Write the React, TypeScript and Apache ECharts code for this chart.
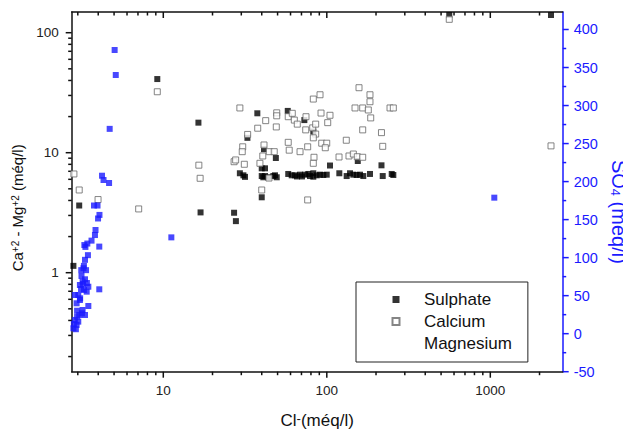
import React, { useEffect, useRef } from "react";
import * as echarts from "echarts";

const FONT = "'Liberation Sans', Arial, sans-serif";

// Axis extents (Cl-, Ca-Mg log axes; SO4 linear)
const X_MIN = 2.753;
const X_MAX = 2772;
const Y_MIN = 0.1496;
const Y_MAX = 148.8;
const SO4_MIN = -50;
const SO4_MAX = 423;

// tick values
const xMajorTicks = [10, 100, 1000];
const xMinorTicks = [3, 4, 5, 6, 7, 8, 9, 20, 30, 40, 50, 60, 70, 80, 90, 200, 300, 400, 500, 600, 700, 800, 900, 2000];
const yMajorTicks = [1, 10, 100];
const yMinorTicks = [0.2, 0.3, 0.4, 0.5, 0.6, 0.7, 0.8, 0.9, 2, 3, 4, 5, 6, 7, 8, 9, 20, 30, 40, 50, 60, 70, 80, 90];
const so4MajorTicks = [-50, 0, 50, 100, 150, 200, 250, 300, 350, 400];
const so4MinorTicks = [-25, 25, 75, 125, 175, 225, 275, 325, 375];

const legendNames = ["Sulphate", "Calcium", "Magnesium"];

// [Cl- (méq/l), Ca+2 - Mg+2 (méq/l)]
const sulphate: [number, number][] = [
  [9.19, 41.1], [16.4, 17.8], [3.06, 3.63], [2.82, 1.14], [16.9, 3.18], [27.1, 3.16], [27.8, 2.69],
  [37.6, 21.3], [32.7, 13.3], [57.7, 22.3], [72.9, 18.7], [82.7, 15.0], [41.3, 10.7], [48.8, 9.03],
  [104.6, 7.82], [154.7, 8.53], [216, 7.85], [40.0, 4.25], [561, 140.4], [2351, 140.4],
  [29.4, 6.74], [30.9, 6.48], [31.6, 6.29], [40.0, 6.39], [41.9, 6.39], [40.0, 7.41], [41.9, 7.41],
  [40.9, 6.24], [43.9, 6.24], [47.1, 6.39], [49.4, 6.24], [48.2, 6.48], [58.1, 6.65], [61.0, 6.48],
  [63.9, 6.48], [65.7, 6.34], [68.6, 6.56], [70.5, 6.34], [73.6, 6.56], [77.1, 6.65], [78.9, 6.39],
  [82.7, 6.74], [82.7, 6.31], [86.8, 6.48], [90.9, 6.56], [95.2, 6.52], [99.9, 6.56], [119.3, 6.74],
  [132.3, 6.39], [138.7, 6.74], [145.3, 6.56], [152.4, 6.52], [159.6, 6.56], [167.2, 6.39],
  [183.7, 6.65], [219.8, 6.39], [249.5, 6.65], [255.2, 6.52],
];

const calcium: [number, number][] = [
  [2.84, 6.65], [3.06, 4.89], [3.99, 4.07], [7.07, 3.40], [9.19, 32.2], [16.5, 7.87], [16.8, 6.12],
  [29.4, 23.6], [27.1, 8.41], [27.7, 8.70], [31.3, 8.01], [30.6, 11.2], [30.4, 10.2], [32.8, 14.2],
  [37.8, 16.0], [42.3, 18.5], [49.4, 21.5], [49.4, 20.3], [49.1, 16.4], [41.3, 11.6], [40.6, 9.39],
  [39.0, 8.16], [44.5, 10.2], [47.7, 10.2], [44.3, 6.15], [40.0, 4.89], [58.1, 19.95], [61.5, 21.3],
  [63.3, 18.7], [66.0, 17.3], [74.6, 19.95], [74.3, 15.5], [82.0, 16.1], [85.5, 17.3], [85.5, 14.3],
  [82.7, 13.3], [82.7, 28.0], [90.9, 30.4], [92.2, 21.4], [104.6, 20.5], [101.3, 17.8], [58.1, 12.2],
  [58.9, 10.5], [68.6, 10.2], [76.4, 11.2], [93.1, 12.0], [99.9, 12.0], [97.9, 11.0], [83.5, 9.16],
  [82.7, 8.16], [76.4, 4.04], [131.6, 12.7], [118.8, 9.21], [136.7, 9.39], [145.3, 9.75], [153.6, 9.26],
  [165.8, 9.16], [157.4, 34.8], [183.7, 30.4], [183.7, 26.6], [148.8, 23.6], [165.8, 23.6], [179.4, 22.7],
  [185.6, 19.5], [165.8, 15.5], [216, 14.7], [219.8, 11.3], [243.6, 23.6], [255.2, 23.6], [2351, 11.4],
  [561, 129.3],
];

const magnesium: [number, number][] = [
  [5.04, 71.8], [5.12, 44.4], [4.70, 15.8], [4.22, 6.43], [4.31, 5.92], [4.66, 5.59], [3.77, 3.63],
  [3.96, 3.63], [4.07, 3.03], [3.99, 2.83], [3.85, 2.27], [3.82, 2.06], [3.64, 1.85], [3.43, 1.75],
  [3.29, 1.70], [3.34, 1.64], [4.06, 1.65], [3.46, 1.40], [3.32, 1.28], [3.25, 1.09], [3.37, 1.05],
  [3.16, 0.939], [3.32, 0.881], [3.21, 0.841], [3.48, 0.764], [3.09, 0.790], [3.27, 0.718], [3.40, 0.695],
  [4.06, 0.727], [3.02, 0.652], [2.88, 0.652], [3.09, 0.592], [2.95, 0.556], [3.48, 0.528], [3.21, 0.489],
  [3.06, 0.444], [3.32, 0.444], [2.88, 0.404], [3.02, 0.391], [2.95, 0.367], [2.82, 0.344], [2.92, 0.338],
  [3.15, 1.05], [3.27, 1.14], [3.23, 0.805], [3.41, 0.821], [3.14, 0.731], [3.18, 0.459], [2.97, 0.430],
  [2.84, 0.374], [2.97, 0.482], [3.10, 0.612], [11.2, 1.97], [1058, 4.22],
];

const BLACK = "#111";
const BLUE = "#1a1aff";
const MAJOR_LEN = 6;
const MINOR_LEN = 3.5;

export default function App() {
  const ref = useRef<HTMLDivElement>(null);
  useEffect(() => {
    const chart = echarts.init(ref.current!, null, { renderer: "svg" });
    const option: any = {
      animation: false,
      backgroundColor: "#fff",
      textStyle: { fontFamily: FONT },
      grid: {
        left: 71.7,
        right: 60.3,
        top: 12,
        bottom: 58.3,
        containLabel: false,
        outerBoundsMode: "none",
      },
      legend: {
        orient: "vertical",
        left: 356,
        top: 282,
        padding: [9, 16, 10, 35.5],
        itemGap: 5,
        itemWidth: 7,
        itemHeight: 7,
        borderColor: "#222",
        borderWidth: 1,
        borderRadius: 0,
        backgroundColor: "#fff",
        selectedMode: false,
        textStyle: { fontSize: 17, color: BLACK, fontFamily: FONT, padding: [0, 0, 0, 19.5] },
        data: [
          { name: legendNames[0], icon: "rect" },
          { name: legendNames[1], icon: "rect" },
          { name: legendNames[2], icon: "none" },
        ],
      },
      xAxis: [
        {
          type: "log",
          min: X_MIN,
          max: X_MAX,
          position: "bottom",
          axisLine: { onZero: false, lineStyle: { color: BLACK, width: 1.5 } },
          axisTick: { show: false },
          axisLabel: {
            margin: 12,
            fontSize: 13.5,
            color: "#222",
            fontFamily: FONT,
            showMinLabel: false,
            showMaxLabel: false,
            formatter: (v: number) => String(Math.round(v)),
          },
          splitLine: { show: false },
          name: "{n|Cl}{sup|-}{n|(méq/l)}",
          nameLocation: "middle",
          nameGap: 40,
          nameTextStyle: {
            color: BLACK,
            fontSize: 17,
            fontFamily: FONT,
            rich: {
              n: { fontSize: 17, fontFamily: FONT, color: BLACK },
              sup: { fontSize: 13, fontFamily: FONT, color: BLACK, verticalAlign: "top" },
            },
          },
        },
        {
          type: "log",
          min: X_MIN,
          max: X_MAX,
          position: "top",
          axisLine: { onZero: false, lineStyle: { color: BLACK, width: 1.5 } },
          axisTick: { show: false },
          axisLabel: { show: false },
          splitLine: { show: false },
        },
      ],
      yAxis: [
        {
          type: "log",
          min: Y_MIN,
          max: Y_MAX,
          position: "left",
          axisLine: { onZero: false, lineStyle: { color: BLACK, width: 1.5 } },
          axisTick: { show: false },
          axisLabel: {
            margin: 13,
            fontSize: 13.5,
            color: "#222",
            fontFamily: FONT,
            showMinLabel: false,
            showMaxLabel: false,
            formatter: (v: number) => String(v),
          },
          splitLine: { show: false },
          name: "{n|Ca}{sup|+2}{n| - Mg}{sup|+2}{n| (méq/l)}",
          nameLocation: "middle",
          nameRotate: 90,
          nameGap: 36,
          nameTextStyle: {
            color: BLACK,
            fontSize: 15,
            fontFamily: FONT,
            padding: [0, 32, 0, 0],
            rich: {
              n: { fontSize: 15, fontFamily: FONT, color: BLACK },
              sup: { fontSize: 10, fontFamily: FONT, color: BLACK, verticalAlign: "top" },
            },
          },
        },
        {
          type: "value",
          min: SO4_MIN,
          max: SO4_MAX,
          interval: 50,
          position: "right",
          axisLine: { onZero: false, lineStyle: { color: BLUE, width: 1.5 } },
          axisTick: { show: false },
          axisLabel: {
            margin: 11,
            fontSize: 14.5,
            color: BLUE,
            fontFamily: FONT,
            showMaxLabel: false,
          },
          splitLine: { show: false },
          name: "{n|SO}{sub|4}{n| (méq/l)}",
          nameLocation: "middle",
          nameRotate: -90,
          nameGap: 37,
          nameTextStyle: {
            color: BLUE,
            fontSize: 20,
            fontFamily: FONT,
            padding: [0, 0, 0, 40],
            rich: {
              n: { fontSize: 20, fontFamily: FONT, color: BLUE },
              sub: { fontSize: 13, fontFamily: FONT, color: BLUE, verticalAlign: "bottom" },
            },
          },
        },
      ],
      series: [
        {
          name: legendNames[0],
          type: "scatter",
          xAxisIndex: 0,
          yAxisIndex: 0,
          symbol: "rect",
          symbolSize: 6,
          itemStyle: { color: "#000" },
          data: sulphate,
        },
        {
          name: legendNames[1],
          type: "scatter",
          xAxisIndex: 0,
          yAxisIndex: 0,
          symbol: "rect",
          symbolSize: 6,
          itemStyle: { color: "#fff", borderColor: "#666", borderWidth: 1 },
          data: calcium,
        },
        {
          name: legendNames[2],
          type: "scatter",
          xAxisIndex: 0,
          yAxisIndex: 0,
          symbol: "rect",
          symbolSize: 6,
          itemStyle: { color: BLUE },
          data: magnesium,
        },
      ],
    };
    chart.setOption(option);

    // tick marks placed through the axes' own scales
    try {
      const gx = (v: number) => chart.convertToPixel({ xAxisIndex: 0 } as any, v) as unknown as number;
      const gy = (v: number) => chart.convertToPixel({ yAxisIndex: 0 } as any, v) as unknown as number;
      const gs = (v: number) => chart.convertToPixel({ yAxisIndex: 1 } as any, v) as unknown as number;
      const bottom = gy(Y_MIN);
      const top = gy(Y_MAX);
      const left = gx(X_MIN);
      const right = gx(X_MAX);
      const els: any[] = [];
      const seg = (x1: number, y1: number, x2: number, y2: number, color: string) => {
        if ([x1, y1, x2, y2].some((n) => typeof n !== "number" || !isFinite(n))) return;
        els.push({
          type: "line",
          silent: true,
          shape: { x1, y1, x2, y2 },
          style: { stroke: color, lineWidth: 1.5 },
        });
      };
      const xTick = (v: number, len: number) => {
        const x = gx(v);
        seg(x, bottom, x, bottom + len, BLACK);
        seg(x, top, x, top + len, BLACK);
      };
      xMajorTicks.forEach((v) => xTick(v, MAJOR_LEN));
      xMinorTicks.forEach((v) => xTick(v, MINOR_LEN));
      yMajorTicks.forEach((v) => { const y = gy(v); seg(left - MAJOR_LEN, y, left, y, BLACK); });
      yMinorTicks.forEach((v) => { const y = gy(v); seg(left - MINOR_LEN, y, left, y, BLACK); });
      so4MajorTicks.forEach((v) => { const y = gs(v); seg(right, y, right + MAJOR_LEN, y, BLUE); });
      so4MinorTicks.forEach((v) => { const y = gs(v); seg(right, y, right + MINOR_LEN, y, BLUE); });
      chart.setOption({ graphic: { elements: els } });
    } catch (e) {
      // leave the chart without extra ticks if conversion fails
    }
    return () => chart.dispose();
  }, []);
  return (
    <div
      ref={ref}
      style={{ position: "absolute", left: 0, top: 0, width: 623, height: 430, background: "#fff" }}
    />
  );
}
